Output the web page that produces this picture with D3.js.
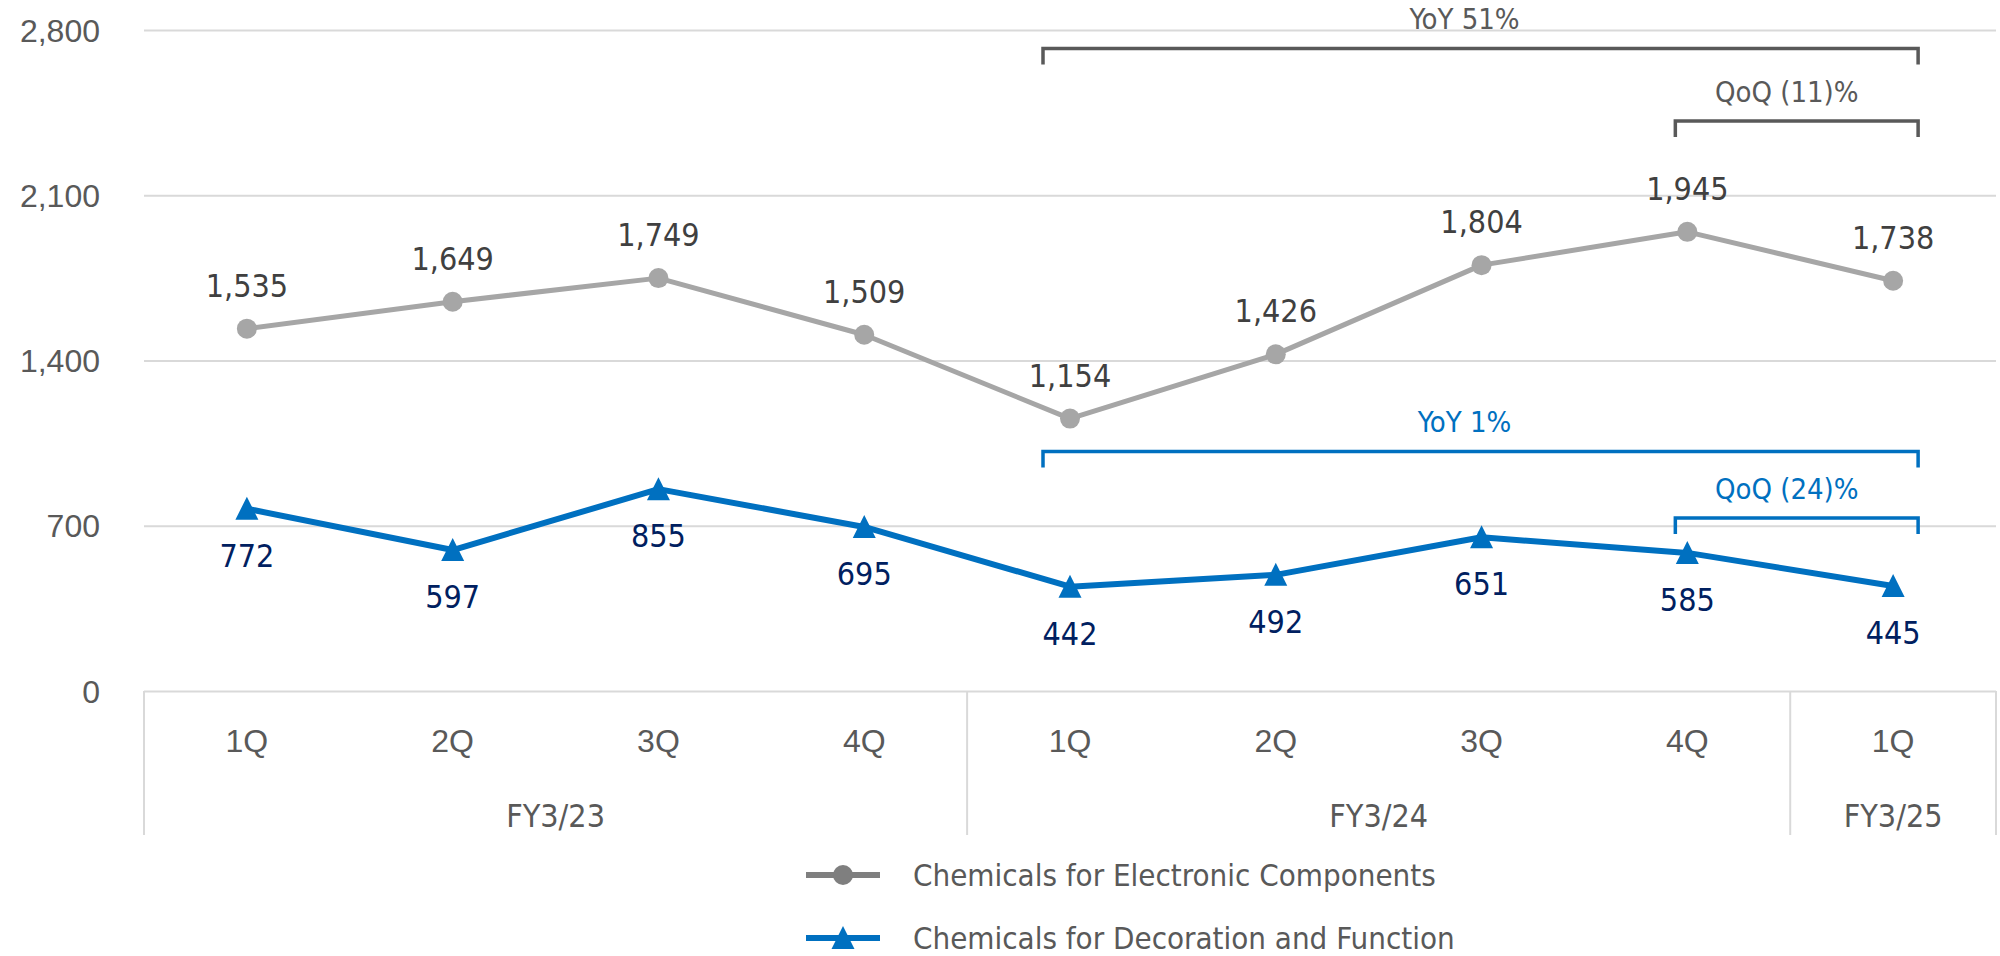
<!DOCTYPE html>
<html>
<head>
<meta charset="utf-8">
<script src="https://cdn.jsdelivr.net/npm/d3@7"></script>
<style>
  html, body { margin: 0; padding: 0; background: #ffffff; }
  svg { display: block; font-family: "DejaVu Sans Condensed", "DejaVu Sans", sans-serif; }
</style>
</head>
<body>
<svg id="chart" width="2000" height="956"></svg>
<script>
// Quarterly sales by segment
const quarters = ["1Q", "2Q", "3Q", "4Q", "1Q", "2Q", "3Q", "4Q", "1Q"];
const fiscalYears = ["FY3/23", "FY3/24", "FY3/25"];
const fiscalYearSpans = [4, 4, 1];
const electronic = [1535, 1649, 1749, 1509, 1154, 1426, 1804, 1945, 1738];
const decoration = [772, 597, 855, 695, 442, 492, 651, 585, 445];
const yTicks = [0, 700, 1400, 2100, 2800];
const seriesNames = ["Chemicals for Electronic Components", "Chemicals for Decoration and Function"];

// Growth brackets: label, first and last quarter index, bracket level (value units)
const bracketLabels = ["YoY 51%", "QoQ (11)%", "YoY 1%", "QoQ (24)%"];
const bracketFrom = [4, 7, 4, 7];
const bracketTo = [8, 8, 8, 8];
const bracketLevel = [2722, 2415, 1015, 733];
const bracketSeries = [0, 0, 1, 1];

const svg = d3.select("#chart");
const plotLeft = 144, plotRight = 1996, plotTop = 30, plotBottom = 691;

const x = d3.scaleBand().domain(d3.range(quarters.length)).range([plotLeft, plotRight]).paddingInner(0).paddingOuter(0);
const cx = i => x(i) + x.bandwidth() / 2;
const y = d3.scaleLinear().domain([0, 2800]).range([plotBottom, plotTop]);

const axisGrey = "#595959";
const gridCol = "#D9D9D9";
const greyLine = "#A6A6A6";
const blue = "#0070C0";
const navy = "#002060";

// horizontal gridlines + value labels
const yAxis = d3.axisLeft(y).tickValues(yTicks).tickFormat(d3.format(",")).tickSize(-(plotRight - plotLeft)).tickPadding(44);
const gy = svg.append("g").attr("transform", `translate(${plotLeft},0)`).call(yAxis);
gy.select(".domain").remove();
gy.selectAll(".tick line").attr("stroke", gridCol).attr("stroke-width", 2);
gy.selectAll(".tick text").attr("fill", axisGrey).attr("font-size", 32).attr("dy", "0.35em");

// category axis: quarter labels and fiscal year grouping
const gx = svg.append("g").attr("transform", `translate(0,${plotBottom})`)
  .call(d3.axisBottom(x).tickFormat(i => quarters[i]).tickSize(0).tickPadding(38));
gx.select(".domain").remove();
gx.selectAll(".tick text").attr("fill", axisGrey).attr("font-size", 32);

const sepBottom = 835;
let acc = 0;
const boundaries = [0];
fiscalYearSpans.forEach(s => { acc += s; boundaries.push(acc); });
boundaries.forEach(b => {
  const bx = b < quarters.length ? x(b) : plotRight;
  svg.append("line").attr("x1", bx).attr("x2", bx).attr("y1", plotBottom).attr("y2", sepBottom)
    .attr("stroke", gridCol).attr("stroke-width", 2);
});
fiscalYears.forEach((fy, k) => {
  const x0 = x(boundaries[k]);
  const x1 = boundaries[k + 1] < quarters.length ? x(boundaries[k + 1]) : plotRight;
  svg.append("text").attr("x", (x0 + x1) / 2).attr("y", 827).attr("text-anchor", "middle")
    .attr("fill", axisGrey).attr("font-size", 32).text(fy);
});

// brackets
bracketLabels.forEach((lab, k) => {
  const col = bracketSeries[k] === 0 ? "#595959" : blue;
  const by = y(bracketLevel[k]);
  const short = bracketFrom[k] === bracketTo[k] - 1;
  const x0 = cx(bracketFrom[k]) - (short ? 12 : 27);
  const x1 = cx(bracketTo[k]) + 25;
  svg.append("path")
    .attr("d", `M${x0},${by + 16}V${by}H${x1}V${by + 16}`)
    .attr("fill", "none").attr("stroke", col).attr("stroke-width", 3.5);
  const tx = short ? (x0 + x1) / 2 - 10 : (x0 + x1) / 2 - 16;
  svg.append("text").attr("x", tx).attr("y", by - 19).attr("text-anchor", "middle")
    .attr("fill", col).attr("font-size", 29).text(lab);
});

// electronic components series
const line = d3.line().x((d, i) => cx(i)).y(d => y(d));
svg.append("path").datum(electronic).attr("d", line).attr("fill", "none")
  .attr("stroke", greyLine).attr("stroke-width", 5).attr("stroke-linejoin", "round");
svg.append("g").selectAll("circle").data(electronic).join("circle")
  .attr("cx", (d, i) => cx(i)).attr("cy", d => y(d)).attr("r", 10).attr("fill", greyLine);
svg.append("g").selectAll("text").data(electronic).join("text")
  .attr("x", (d, i) => cx(i)).attr("y", d => y(d) - 32).attr("text-anchor", "middle")
  .attr("fill", "#404040").attr("font-size", 32).text(d3.format(","));

// decoration and function series
svg.append("path").datum(decoration).attr("d", line).attr("fill", "none")
  .attr("stroke", blue).attr("stroke-width", 6).attr("stroke-linejoin", "round");
const tri = "M0,-12L11.5,11L-11.5,11Z";
svg.append("g").selectAll("path").data(decoration).join("path")
  .attr("transform", (d, i) => `translate(${cx(i)},${y(d)})`).attr("d", tri).attr("fill", blue);
svg.append("g").selectAll("text").data(decoration).join("text")
  .attr("x", (d, i) => cx(i)).attr("y", d => y(d) + 58).attr("text-anchor", "middle")
  .attr("fill", navy).attr("font-size", 32).text(d3.format(","));

// legend
const legend = svg.append("g");
const legendRows = [875, 938];
legend.append("line").attr("x1", 806).attr("x2", 880).attr("y1", legendRows[0]).attr("y2", legendRows[0])
  .attr("stroke", "#7F7F7F").attr("stroke-width", 6);
legend.append("circle").attr("cx", 843).attr("cy", legendRows[0]).attr("r", 10).attr("fill", "#7F7F7F");
legend.append("line").attr("x1", 806).attr("x2", 880).attr("y1", legendRows[1]).attr("y2", legendRows[1])
  .attr("stroke", blue).attr("stroke-width", 6);
legend.append("path").attr("transform", `translate(843,${legendRows[1]})`).attr("d", tri).attr("fill", blue);
seriesNames.forEach((n, k) => {
  legend.append("text").attr("x", 913).attr("y", legendRows[k]).attr("dy", "0.35em")
    .attr("fill", axisGrey).attr("font-size", 31).text(n);
});
</script>
</body>
</html>
